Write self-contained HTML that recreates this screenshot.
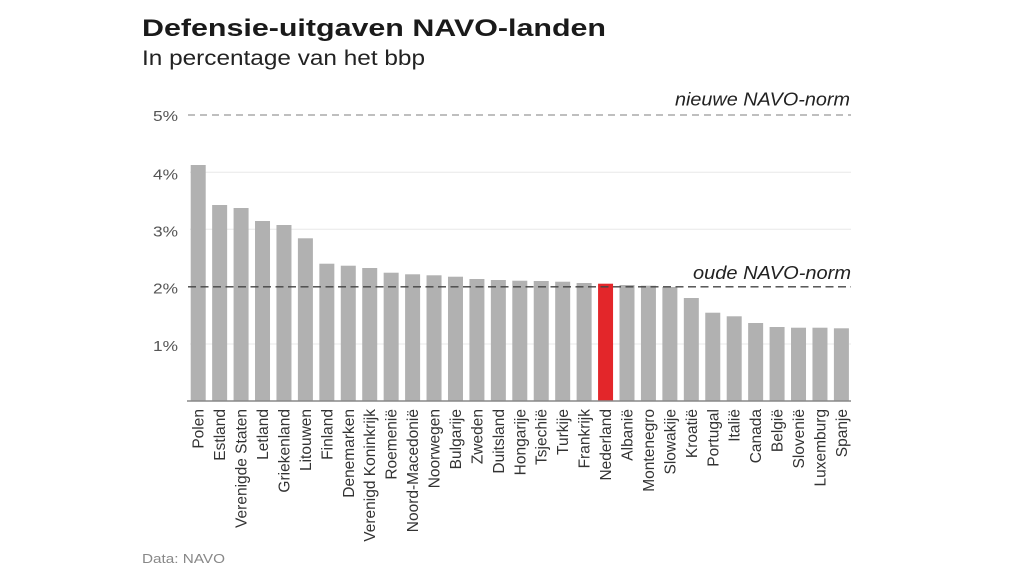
<!DOCTYPE html>
<html>
<head>
<meta charset="utf-8">
<style>
html,body{margin:0;padding:0;background:#fff;}
svg{display:block;}
text{font-family:"Liberation Sans",sans-serif;}
</style>
</head>
<body>
<svg width="1024" height="576" viewBox="0 0 1024 576" xmlns="http://www.w3.org/2000/svg">
<rect width="1024" height="576" fill="#fff"/>
<!-- Title -->
<text x="142" y="36" font-size="24" font-weight="bold" fill="#1a1a1a" textLength="464" lengthAdjust="spacingAndGlyphs">Defensie-uitgaven NAVO-landen</text>
<text x="142" y="65" font-size="21" fill="#222" textLength="283" lengthAdjust="spacingAndGlyphs">In percentage van het bbp</text>

<!-- gridlines -->
<g stroke="#e8e8e8" stroke-width="1">
<line x1="190" y1="172.3" x2="851" y2="172.3"/>
<line x1="190" y1="229.3" x2="851" y2="229.3"/>
<line x1="190" y1="344" x2="851" y2="344"/>
</g>

<!-- y tick labels -->
<g font-size="15" fill="#555" text-anchor="end">
<text x="178" y="121" textLength="25" lengthAdjust="spacingAndGlyphs">5%</text>
<text x="178" y="179.3" textLength="25" lengthAdjust="spacingAndGlyphs">4%</text>
<text x="178" y="236.3" textLength="25" lengthAdjust="spacingAndGlyphs">3%</text>
<text x="178" y="293.7" textLength="25" lengthAdjust="spacingAndGlyphs">2%</text>
<text x="178" y="351" textLength="25" lengthAdjust="spacingAndGlyphs">1%</text>
</g>

<!-- 5% dashed line -->
<line x1="188" y1="115" x2="851" y2="115" stroke="#999" stroke-width="1.2" stroke-dasharray="7 5"/>
<text x="850" y="105.7" font-size="18" font-style="italic" fill="#222" text-anchor="end" textLength="175" lengthAdjust="spacingAndGlyphs">nieuwe NAVO-norm</text>

<!-- bars -->
<g fill="#b1b1b1">
<rect x="190.7" y="165" width="15" height="236"/>
<rect x="212.14" y="205" width="15" height="196"/>
<rect x="233.58" y="208" width="15" height="193"/>
<rect x="255.02" y="221" width="15" height="180"/>
<rect x="276.46" y="225" width="15" height="176"/>
<rect x="297.9" y="238.3" width="15" height="162.7"/>
<rect x="319.34" y="263.7" width="15" height="137.3"/>
<rect x="340.78" y="265.7" width="15" height="135.3"/>
<rect x="362.22" y="268" width="15" height="133"/>
<rect x="383.66" y="272.7" width="15" height="128.3"/>
<rect x="405.1" y="274.3" width="15" height="126.7"/>
<rect x="426.54" y="275.3" width="15" height="125.7"/>
<rect x="447.98" y="276.7" width="15" height="124.3"/>
<rect x="469.42" y="279" width="15" height="122"/>
<rect x="490.86" y="280" width="15" height="121"/>
<rect x="512.3" y="280.7" width="15" height="120.3"/>
<rect x="533.74" y="281" width="15" height="120"/>
<rect x="555.18" y="281.7" width="15" height="119.3"/>
<rect x="576.62" y="283" width="15" height="118"/>
<rect x="619.5" y="285" width="15" height="116"/>
<rect x="640.94" y="285.7" width="15" height="115.3"/>
<rect x="662.38" y="287" width="15" height="114"/>
<rect x="683.82" y="298" width="15" height="103"/>
<rect x="705.26" y="312.7" width="15" height="88.3"/>
<rect x="726.7" y="316.3" width="15" height="84.7"/>
<rect x="748.14" y="323" width="15" height="78"/>
<rect x="769.58" y="327" width="15" height="74"/>
<rect x="791.02" y="327.7" width="15" height="73.3"/>
<rect x="812.46" y="327.7" width="15" height="73.3"/>
<rect x="833.9" y="328.3" width="15" height="72.7"/>
</g>
<rect x="598.06" y="283.7" width="15" height="117.3" fill="#e3262a"/>

<!-- 2% dashed line -->
<line x1="188" y1="286.8" x2="851" y2="286.8" stroke="#444" stroke-width="1.4" stroke-dasharray="8 4.5"/>
<text x="851" y="279" font-size="18" font-style="italic" fill="#222" text-anchor="end" textLength="158" lengthAdjust="spacingAndGlyphs">oude NAVO-norm</text>

<!-- baseline -->
<line x1="187" y1="401" x2="851" y2="401" stroke="#888" stroke-width="1.5"/>

<!-- x labels -->
<g font-size="15.5" fill="#333" text-anchor="end">
<text transform="translate(203.7,409) rotate(-90)">Polen</text>
<text transform="translate(225.14,409) rotate(-90)">Estland</text>
<text transform="translate(246.58,409) rotate(-90)">Verenigde Staten</text>
<text transform="translate(268.02,409) rotate(-90)">Letland</text>
<text transform="translate(289.46,409) rotate(-90)">Griekenland</text>
<text transform="translate(310.9,409) rotate(-90)">Litouwen</text>
<text transform="translate(332.34,409) rotate(-90)">Finland</text>
<text transform="translate(353.78,409) rotate(-90)">Denemarken</text>
<text transform="translate(375.22,409) rotate(-90)">Verenigd Koninkrijk</text>
<text transform="translate(396.66,409) rotate(-90)">Roemenië</text>
<text transform="translate(418.1,409) rotate(-90)">Noord-Macedonië</text>
<text transform="translate(439.54,409) rotate(-90)">Noorwegen</text>
<text transform="translate(460.98,409) rotate(-90)">Bulgarije</text>
<text transform="translate(482.42,409) rotate(-90)">Zweden</text>
<text transform="translate(503.86,409) rotate(-90)">Duitsland</text>
<text transform="translate(525.3,409) rotate(-90)">Hongarije</text>
<text transform="translate(546.74,409) rotate(-90)">Tsjechië</text>
<text transform="translate(568.18,409) rotate(-90)">Turkije</text>
<text transform="translate(589.62,409) rotate(-90)">Frankrijk</text>
<text transform="translate(611.06,409) rotate(-90)">Nederland</text>
<text transform="translate(632.5,409) rotate(-90)">Albanië</text>
<text transform="translate(653.94,409) rotate(-90)">Montenegro</text>
<text transform="translate(675.38,409) rotate(-90)">Slowakije</text>
<text transform="translate(696.82,409) rotate(-90)">Kroatië</text>
<text transform="translate(718.26,409) rotate(-90)">Portugal</text>
<text transform="translate(739.7,409) rotate(-90)">Italië</text>
<text transform="translate(761.14,409) rotate(-90)">Canada</text>
<text transform="translate(782.58,409) rotate(-90)">België</text>
<text transform="translate(804.02,409) rotate(-90)">Slovenië</text>
<text transform="translate(825.46,409) rotate(-90)">Luxemburg</text>
<text transform="translate(846.9,409) rotate(-90)">Spanje</text>
</g>

<!-- source -->
<text x="142" y="563" font-size="13" fill="#888" textLength="83" lengthAdjust="spacingAndGlyphs">Data: NAVO</text>
</svg>
</body>
</html>
